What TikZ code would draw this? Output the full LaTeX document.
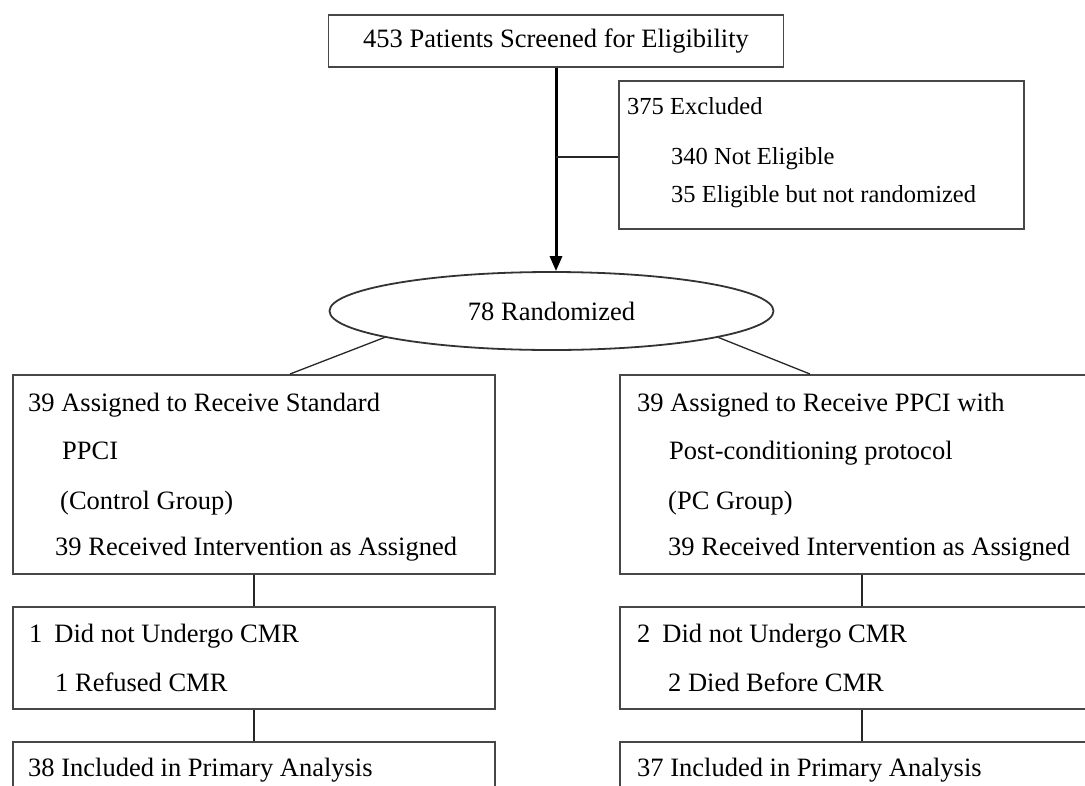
\documentclass[tikz,border=0pt]{standalone}
\usepackage{fontspec}
\setmainfont{Liberation Serif}
\usetikzlibrary{shapes.geometric,arrows.meta,calc}
\begin{document}
\begin{tikzpicture}[x=1pt,y=-1pt,
  box/.style={draw=black!72, line width=1.7pt, rectangle, inner sep=0pt, anchor=north west},
  txt/.style={anchor=base west, inner sep=0pt, font=\fontsize{26.5}{30}\selectfont},
  stxt/.style={anchor=base west, inner sep=0pt, font=\fontsize{24.5}{28}\selectfont},
  conn/.style={draw=black!85, line width=1.3pt},
  mainarrow/.style={draw=black, line width=3pt, -{Triangle[length=15pt,width=12pt]}}]
\useasboundingbox (0,0) rectangle (1085,785);
\clip (0,0) rectangle (1085,785);

% top box
\node[box, anchor=center, minimum width=455pt, minimum height=52pt,
      font=\fontsize{26.5}{30}\selectfont] (screen) at (556,41) {453 Patients Screened for Eligibility};

% excluded box
\node[box, minimum width=405pt, minimum height=148pt] (excl) at (618,80) {};
\node[stxt] (ex1) at (627,114) {375 Excluded};
\node[stxt] (ex2) at (671,164) {340 Not Eligible};
\node[stxt] (ex3) at (671,202) {35 Eligible but not randomized};

% randomized ellipse
\node[draw=black!80, line width=1.8pt, ellipse, minimum width=444pt, minimum height=78pt,
      inner sep=0pt, font=\fontsize{26.5}{30}\selectfont] (rand) at (551.5,311) {78 Randomized};

% main arrow and exclusion branch
\draw[mainarrow] (screen.south) -- (screen.south |- rand.north);
\coordinate (jn) at (556,157);
\draw[conn] (jn) -- (jn -| excl.west);

% left column boxes
\node[box, minimum width=482pt, minimum height=199pt] (lb1) at (12,374) {};
\node[box, minimum width=482pt, minimum height=102pt] (lb2) at (12,606) {};
\node[box, minimum width=482pt, minimum height=80pt] (lb3) at (12,741) {};

% right column boxes
\node[box, minimum width=484pt, minimum height=199pt] (rb1) at (619,374) {};
\node[box, minimum width=484pt, minimum height=102pt] (rb2) at (619,606) {};
\node[box, minimum width=484pt, minimum height=80pt] (rb3) at (619,741) {};

% connectors from ellipse
\coordinate (lt) at ($(lb1.north west)+(278,0)$);
\coordinate (rt) at ($(rb1.north west)+(191,0)$);
\draw[conn] (rand.189) -- (lt);
\draw[conn] (rand.351) -- (rt);

% vertical connectors
\draw[conn] (lb1.south) -- (lb2.north);
\draw[conn] (lb2.south) -- (lb3.north);
\draw[conn] (rb1.south) -- (rb2.north);
\draw[conn] (rb2.south) -- (rb3.north);

% left texts
\node[txt] (l11) at (28,411) {39 Assigned to Receive Standard};
\node[txt] (l12) at (62,459) {PPCI};
\node[txt] (l13) at (60,509) {(Control Group)};
\node[txt] (l14) at (55,555) {39 Received Intervention as Assigned};
\node[txt] (l21) at (29,642) {1\hspace{12pt}Did not Undergo CMR};
\node[txt] (l22) at (55,691) {1 Refused CMR};
\node[txt] (l31) at (28,776) {38 Included in Primary Analysis};

% right texts
\node[txt] (r11) at (637,411) {39 Assigned to Receive PPCI with};
\node[txt] (r12) at (669,459) {Post-conditioning protocol};
\node[txt] (r13) at (668,509) {(PC Group)};
\node[txt] (r14) at (668,555) {39 Received Intervention as Assigned};
\node[txt] (r21) at (637,642) {2\hspace{12pt}Did not Undergo CMR};
\node[txt] (r22) at (668,691) {2 Died Before CMR};
\node[txt] (r31) at (637,776) {37 Included in Primary Analysis};
\end{tikzpicture}
\end{document}
